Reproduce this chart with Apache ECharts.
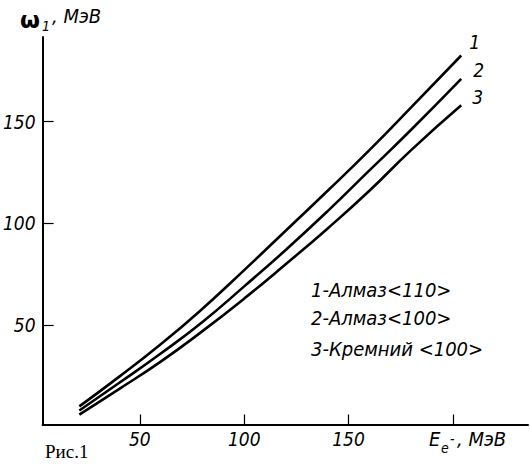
<!DOCTYPE html>
<html>
<head>
<meta charset="utf-8">
<script src="https://cdn.jsdelivr.net/npm/echarts@6/dist/echarts.min.js"></script>
<style>
  html, body { margin: 0; padding: 0; background: #fff; }
  #chart { width: 530px; height: 465px; }
</style>
</head>
<body>
<div id="chart"></div>
<script>
// electron energy, MeV
var energy = [21, 40, 60, 80, 100, 120, 140, 160, 180, 204];
// omega_1, MeV
var almaz110 = [10, 24.5, 40.5, 58, 77, 96.5, 116, 136, 157, 182.5];
var almaz100 = [8, 21.5, 36, 51.5, 69, 87, 106, 126, 146, 171];
var kremnij100 = [6, 18.5, 32, 47, 63, 80, 97.5, 116, 136, 158];
var curveNames = ["1", "2", "3"];
var legendLines = ["1-Алмаз<110>", "2-Алмаз<100>", "3-Кремний <100>"];
var xTicks = [50, 100, 150, 200];
var xLabels = [50, 100, 150];
var yTicks = [50, 100, 150];

var FONT = "'Liberation Sans Narrow', 'DejaVu Sans Condensed', 'Liberation Sans', sans-serif";

function pairs(ys) {
  return ys.map(function (y, i) { return [energy[i], y]; });
}

function curve(name, ys, offset) {
  return {
    name: name,
    type: "line",
    data: pairs(ys),
    smooth: true,
    symbol: "none",
    silent: true,
    lineStyle: { color: "#000", width: 2.6 },
    endLabel: {
      show: true,
      formatter: name,
      offset: offset,
      color: "#000",
      fontFamily: FONT,
      fontStyle: "italic",
      fontSize: 19
    }
  };
}

var chart = echarts.init(document.getElementById("chart"), null, { renderer: "svg" });

var textStyle = { fill: "#000", fontFamily: FONT, fontStyle: "italic", fontSize: 20 };
var smallStyle = { fill: "#000", fontFamily: FONT, fontStyle: "italic", fontSize: 14 };

var graphics = [
  { type: "text", left: 20, top: 8, style: { text: "ω", fill: "#000", font: "bold 23px 'DejaVu Sans', sans-serif" } },
  { type: "text", left: 42, top: 19, style: Object.assign({ text: "1" }, smallStyle) },
  { type: "text", left: 52, top: 6, style: Object.assign({ text: ", МэВ" }, textStyle) },
  { type: "text", left: 429, top: 429, style: Object.assign({ text: "E" }, textStyle) },
  { type: "text", left: 441, top: 441, style: Object.assign({ text: "e" }, smallStyle) },
  { type: "text", left: 450, top: 432, style: Object.assign({ text: "-" }, smallStyle) },
  { type: "text", left: 457, top: 429, style: Object.assign({ text: ", МэВ" }, textStyle) },
  { type: "text", left: 45, top: 442, style: { text: "Рис.1", fill: "#000", fontFamily: "'Liberation Serif', serif", fontSize: 19 } }
];
legendLines.forEach(function (t, i) {
  graphics.push({ type: "text", left: 311, top: [280, 308, 339][i], style: Object.assign({ text: t }, textStyle) });
});

chart.setOption({
  animation: false,
  backgroundColor: "#fff",
  grid: { left: 42.5, top: 37, right: 2, bottom: 40.5, containLabel: false },
  xAxis: {
    type: "value",
    min: 3.4,
    max: 236,
    axisLine: { lineStyle: { color: "#000", width: 2 } },
    axisTick: { show: true, inside: true, length: 10, customValues: xTicks, lineStyle: { color: "#000", width: 1.2 } },
    axisLabel: {
      customValues: xLabels,
      margin: 5,
      color: "#000",
      fontFamily: FONT,
      fontStyle: "italic",
      fontSize: 19
    },
    splitLine: { show: false }
  },
  yAxis: {
    type: "value",
    min: 1.1,
    max: 191.6,
    axisLine: { show: true, lineStyle: { color: "#000", width: 2 } },
    axisTick: { show: true, inside: true, length: 11, customValues: yTicks, lineStyle: { color: "#000", width: 1.2 } },
    axisLabel: {
      customValues: yTicks,
      margin: 7,
      color: "#000",
      fontFamily: FONT,
      fontStyle: "italic",
      fontSize: 19
    },
    splitLine: { show: false }
  },
  series: [
    curve(curveNames[0], almaz110, [0, -14]),
    curve(curveNames[1], almaz100, [4, -9]),
    curve(curveNames[2], kremnij100, [3, -8])
  ],
  graphic: graphics
});
</script>
</body>
</html>
